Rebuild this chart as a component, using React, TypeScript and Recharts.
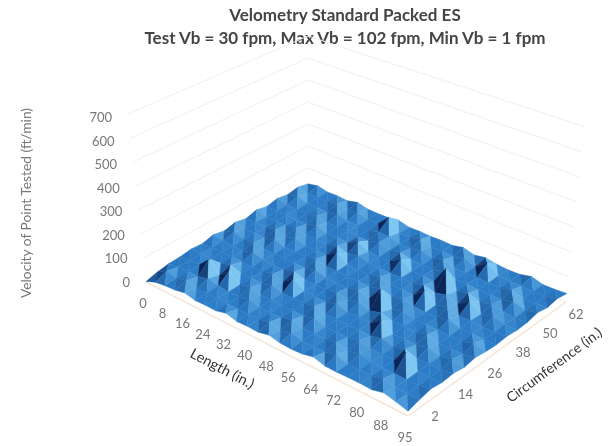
import { Scatter, ScatterChart, XAxis, YAxis } from "recharts";

const lengthLabels = ["0", "", "8", "", "16", "", "24", "", "32", "", "40", "", "48", "", "56", "", "64", "", "72", "", "80", "", "88", "", "95"];
const circLabels = ["2", "", "", "14", "", "", "26", "", "", "38", "", "", "50", "", "", "62"];
const velocityTicks = [0, 100, 200, 300, 400, 500, 600, 700];

// velocity per circumference station, one value per length station
const c2 = [2, 20, 26, 29, 38, 28, 30, 29, 40, 28, 31, 29, 39, 30, 28, 31, 41, 29, 28, 30, 31, 29, 40, 30, 18];
const c6 = [14, 38, 29, 40, 28, 30, 31, 29, 28, 30, 29, 41, 28, 39, 30, 29, 31, 42, 28, 30, 29, 40, 31, 29, 30];
const c10 = [22, 28, 30, 29, 41, 31, 28, 30, 39, 29, 28, 30, 42, 29, 31, 28, 40, 29, 38, 31, 28, 30, 29, 31, 40];
const c14 = [24, 29, 31, 72, 28, 65, 30, 40, 29, 31, 28, 30, 29, 41, 28, 30, 31, 39, 30, 28, 29, 80, 30, 29, 34];
const c18 = [30, 31, 28, 30, 43, 29, 31, 28, 40, 30, 29, 31, 41, 28, 30, 29, 31, 28, 39, 30, 42, 28, 31, 30, 38];
const c22 = [26, 28, 30, 31, 29, 28, 30, 39, 28, 60, 31, 29, 28, 42, 30, 31, 29, 60, 28, 31, 30, 41, 29, 40, 31];
const c26 = [38, 30, 29, 28, 41, 31, 28, 30, 43, 29, 28, 31, 39, 30, 40, 28, 42, 30, 31, 29, 41, 28, 30, 31, 39];
const c30 = [28, 40, 31, 39, 29, 28, 30, 31, 29, 41, 30, 28, 31, 42, 29, 85, 28, 39, 30, 31, 29, 28, 30, 43, 33];
const c34 = [39, 29, 31, 28, 42, 30, 29, 31, 40, 28, 30, 29, 31, 28, 41, 30, 39, 31, 28, 29, 43, 30, 31, 28, 30];
const c38 = [29, 31, 28, 41, 30, 39, 28, 30, 29, 60, 31, 28, 30, 40, 29, 31, 28, 65, 30, 42, 29, 31, 28, 30, 34];
const c42 = [41, 28, 30, 31, 40, 29, 31, 28, 42, 30, 39, 31, 29, 28, 30, 29, 41, 31, 42, 28, 58, 29, 40, 31, 29];
const c46 = [30, 29, 31, 28, 30, 41, 28, 31, 29, 52, 30, 28, 31, 58, 29, 31, 28, 102, 30, 43, 29, 39, 31, 28, 31];
const c50 = [40, 30, 28, 31, 39, 29, 30, 31, 28, 30, 42, 29, 40, 31, 28, 30, 41, 29, 31, 28, 30, 29, 43, 30, 41];
const c54 = [31, 42, 29, 30, 28, 40, 31, 28, 30, 41, 40, 28, 31, 39, 29, 43, 30, 28, 31, 29, 30, 41, 28, 31, 33];
const c58 = [39, 28, 30, 31, 41, 29, 40, 28, 31, 75, 30, 29, 42, 28, 31, 30, 39, 28, 62, 31, 29, 30, 28, 31, 41];
const c62 = [28, 38, 29, 31, 28, 40, 30, 29, 31, 39, 28, 30, 29, 31, 30, 40, 29, 38, 31, 28, 30, 41, 29, 30, 34];
const velocityRows = [c2, c6, c10, c14, c18, c22, c26, c30, c34, c38, c42, c46, c50, c54, c58, c62];

const W = 611;
const H = 446;

// floor corners, in screen px: left, front, right, back
const q = [[146, 282], [408, 416], [566, 302], [308, 190]];
const den = (q[1][0] - q[2][0]) * (q[3][1] - q[2][1]) - (q[3][0] - q[2][0]) * (q[1][1] - q[2][1]);
const sx = q[0][0] - q[1][0] + q[2][0] - q[3][0];
const sy = q[0][1] - q[1][1] + q[2][1] - q[3][1];
const g = (sx * (q[3][1] - q[2][1]) - (q[3][0] - q[2][0]) * sy) / den;
const h = ((q[1][0] - q[2][0]) * sy - sx * (q[1][1] - q[2][1])) / den;

function project(u: number, v: number, value: number) {
  const w = g * u + h * v + 1;
  const fx = ((q[1][0] - q[0][0] + g * q[1][0]) * u + (q[3][0] - q[0][0] + h * q[3][0]) * v + q[0][0]) / w;
  const fy = ((q[1][1] - q[0][1] + g * q[1][1]) * u + (q[3][1] - q[0][1] + h * q[3][1]) * v + q[0][1]) / w;
  const rise = (1 - u) * (1 - v) * 0.24 + u * (1 - v) * 0.27 + u * v * 0.25 + (1 - u) * v * 0.22;
  const lean = ((1 - u) * (1 - v) * -18 + u * v * 19) / 700;
  return { x: fx + lean * value, y: fy - rise * value };
}

function mix(a: number[], b: number[], t: number) {
  const c = a.map((n, k) => Math.round(n + (b[k] - n) * t));
  return `rgb(${c[0]},${c[1]},${c[2]})`;
}

const base = [44, 125, 200];
const lit = [125, 198, 242];
const shadow = [10, 38, 88];

// lit side reacts faster than the shadow side, small bumps stay mid blue
function shade(dL: number, dC: number) {
  const s = -(dL + dC) - (dL - dC) * 0.25;
  if (s >= 0) return mix(base, lit, Math.min(1, s / 42));
  return mix(base, shadow, Math.min(1, (-s / 62) ** 1.4));
}

const nL = lengthLabels.length;
const nC = circLabels.length;
const facets: { x: number; y: number; pts: number[][]; fill: string }[] = [];

function addFacet(corners: number[][], fill: string) {
  const p = corners.map(([i, j]) => project(i / (nL - 1), j / (nC - 1), velocityRows[j][i]));
  const x = (p[0].x + p[1].x + p[2].x) / 3;
  const y = (p[0].y + p[1].y + p[2].y) / 3;
  facets.push({ x, y, pts: p.map((o) => [o.x - x, o.y - y]), fill });
}

// back to front: low length and high circumference first
for (let i = 0; i < nL - 1; i++) {
  for (let j = nC - 2; j >= 0; j--) {
    const v00 = velocityRows[j][i];
    const v10 = velocityRows[j][i + 1];
    const v01 = velocityRows[j + 1][i];
    const v11 = velocityRows[j + 1][i + 1];
    addFacet([[i, j], [i + 1, j], [i, j + 1]], shade(v10 - v00, v01 - v00));
    addFacet([[i + 1, j + 1], [i + 1, j], [i, j + 1]], shade(v11 - v01, v11 - v10));
  }
}

const wallLines = velocityTicks.map((t) => [project(0, 0, t), project(0, 1, t), project(1, 1, t)]);
const floorEdge = [project(0, 0, 0), project(1, 0, 0), project(1, 1, 0)];

const yTickData = velocityTicks.map((t) => {
  const p = project(0, 0, t);
  return { x: p.x - 16, y: p.y + 4.5 + (3.5 * t) / 700, label: String(t), anchor: "end" };
});
const lengthTickData = lengthLabels.map((label, i) => {
  const p = project(i / (nL - 1), 0, 0);
  return { x: p.x - 3, y: p.y + 26, label, anchor: "middle" };
}).filter((d) => d.label);
const circTickData = circLabels.map((label, j) => {
  const p = project(1, j / (nC - 1), 0);
  const t = j / (nC - 1);
  return { x: p.x + 27 - 17 * t, y: p.y + 5 + 12 * t, label, anchor: "middle" };
}).filter((d) => d.label);
const tickData = [...yTickData, ...lengthTickData, ...circTickData];

const font = "Lato, 'Open Sans', sans-serif";

function Facet(props: any) {
  const { cx, cy, payload } = props;
  const points = payload.pts.map((o: number[]) => `${cx + o[0]},${cy + o[1]}`).join(" ");
  return <polygon points={points} fill={payload.fill} stroke={payload.fill} strokeWidth={0.4} />;
}

function TickText(props: any) {
  const { cx, cy, payload } = props;
  return (
    <text x={cx} y={cy} textAnchor={payload.anchor} fontFamily={font} fontSize={13} fill="#777">
      {payload.label}
    </text>
  );
}

const noDot = () => <g />;

export default function App() {
  return (
    <div style={{ position: "fixed", left: 0, top: 0, width: W, height: H, background: "#fff", filter: "blur(0.6px)" }}>
      <ScatterChart width={W} height={H} margin={{ top: 0, right: 0, bottom: 0, left: 0 }}>
        <XAxis type="number" dataKey="x" domain={[0, W]} hide />
        <YAxis type="number" dataKey="y" domain={[0, H]} reversed hide />
        {wallLines.map((line, k) => (
          <Scatter key={k} data={line} line={{ stroke: "#efefef", strokeWidth: 1 }} shape={noDot} isAnimationActive={false} />
        ))}
        <Scatter data={floorEdge} line={{ stroke: "#f6e6d8", strokeWidth: 1.5 }} shape={noDot} isAnimationActive={false} />
        <Scatter data={facets} shape={Facet} isAnimationActive={false} />
        <Scatter data={tickData} shape={TickText} isAnimationActive={false} />
        <text x={345} y={21} textAnchor="middle" fontFamily={font} fontWeight={700} fontSize={17} fill="#454545">
          Velometry Standard Packed ES
        </text>
        <text x={345} y={44} textAnchor="middle" fontFamily={font} fontWeight={700} fontSize={17} fill="#454545">
          Test Vb = 30 fpm, Max Vb = 102 fpm, Min Vb = 1 fpm
        </text>
        <text transform="translate(31,203) rotate(-90)" textAnchor="middle" fontFamily={font} fontSize={13.8} fill="#777">
          Velocity of Point Tested (ft/min)
        </text>
        <text transform="translate(220,373) rotate(27.7)" textAnchor="middle" fontFamily={font} fontSize={14.5} fill="#333">
          Length (in.)
        </text>
        <text transform="translate(557,369) rotate(-36.7)" textAnchor="middle" fontFamily={font} fontSize={14} fill="#333">
          Circumference (in.)
        </text>
      </ScatterChart>
    </div>
  );
}
